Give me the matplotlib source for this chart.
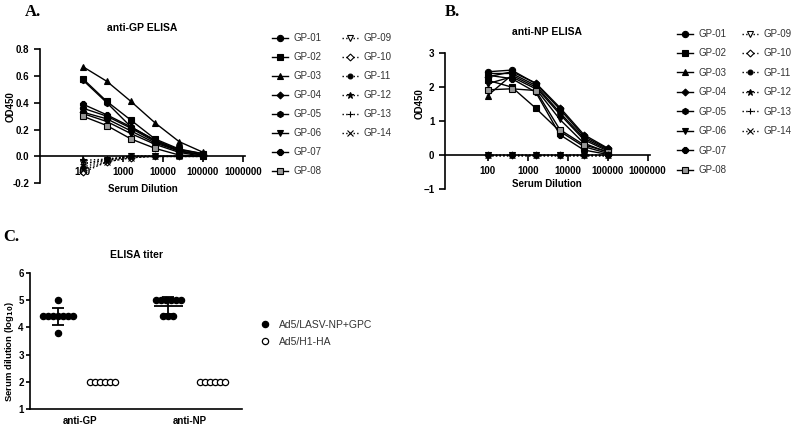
import matplotlib
matplotlib.use("Agg")
import matplotlib.pyplot as plt
import numpy as np

plt.rcParams['font.family'] = ['Liberation Sans', 'DejaVu Sans']

# serum dilutions used in the ELISA
dilutions = [100, 400, 1600, 6400, 25600, 102400]
animals = ['GP-%02d' % i for i in range(1, 15)]

# OD450 values, anti-GP ELISA (panel A)
gp_od = {
    'GP-01': [0.36, 0.30, 0.21, 0.11, 0.04, 0.01],
    'GP-02': [0.58, 0.41, 0.27, 0.13, 0.055, 0.02],
    'GP-03': [0.67, 0.56, 0.41, 0.25, 0.11, 0.03],
    'GP-04': [0.33, 0.28, 0.19, 0.10, 0.04, 0.01],
    'GP-05': [0.57, 0.40, 0.22, 0.12, 0.05, 0.02],
    'GP-06': [0.32, 0.26, 0.17, 0.09, 0.03, 0.00],
    'GP-07': [0.39, 0.31, 0.22, 0.12, 0.04, 0.01],
    'GP-08': [0.30, 0.23, 0.13, 0.06, 0.01, 0.00],
    'GP-09': [-0.05, -0.03, 0.00, 0.00, 0.00, 0.00],
    'GP-10': [-0.12, -0.04, -0.01, 0.00, 0.00, 0.00],
    'GP-11': [-0.08, -0.03, 0.00, 0.00, 0.00, 0.00],
    'GP-12': [-0.03, -0.02, 0.00, 0.00, 0.00, 0.00],
    'GP-13': [-0.06, -0.02, 0.00, 0.00, 0.00, 0.00],
    'GP-14': [-0.10, -0.04, -0.01, 0.00, 0.00, 0.00],
}

# OD450 values, anti-NP ELISA (panel B)
np_od = {
    'GP-01': [2.45, 2.50, 2.10, 1.35, 0.55, 0.18],
    'GP-02': [2.20, 2.00, 1.38, 0.70, 0.25, 0.05],
    'GP-03': [1.75, 2.35, 2.00, 1.20, 0.45, 0.12],
    'GP-04': [2.30, 2.45, 2.12, 1.40, 0.60, 0.20],
    'GP-05': [2.40, 2.40, 2.05, 1.25, 0.50, 0.15],
    'GP-06': [2.10, 2.30, 1.95, 1.05, 0.35, 0.08],
    'GP-07': [2.35, 2.25, 1.85, 0.60, 0.15, 0.02],
    'GP-08': [1.92, 1.95, 1.90, 0.75, 0.30, 0.10],
    'GP-09': [0.00, 0.00, 0.00, 0.00, 0.00, 0.00],
    'GP-10': [0.00, 0.00, 0.00, 0.00, 0.00, 0.00],
    'GP-11': [0.00, 0.00, 0.00, 0.00, 0.00, 0.00],
    'GP-12': [0.00, 0.00, 0.00, 0.00, 0.00, 0.00],
    'GP-13': [0.00, 0.00, 0.00, 0.00, 0.00, 0.00],
    'GP-14': [0.00, 0.00, 0.00, 0.00, 0.00, 0.00],
}

# endpoint titers (log10), panel C
titer_groups = ['anti-GP', 'anti-NP']
titer_vaccine = {
    'anti-GP': [5.0, 4.4, 4.4, 4.4, 4.4, 4.4, 4.4, 4.4, 3.8],
    'anti-NP': [5.0, 5.0, 5.0, 5.0, 5.0, 5.0, 4.4, 4.4, 4.4],
}
titer_control = {
    'anti-GP': [2.0, 2.0, 2.0, 2.0, 2.0, 2.0],
    'anti-NP': [2.0, 2.0, 2.0, 2.0, 2.0, 2.0],
}
group_names = ['Ad5/LASV-NP+GPC', 'Ad5/H1-HA']

# marker style for each animal
styles = {
    'GP-01': dict(marker='o', mfc='black', ms=4.5),
    'GP-02': dict(marker='s', mfc='black', ms=4.5),
    'GP-03': dict(marker='^', mfc='black', ms=4.5),
    'GP-04': dict(marker='D', mfc='black', ms=3.5),
    'GP-05': dict(marker='h', mfc='black', ms=4.5),
    'GP-06': dict(marker='v', mfc='black', ms=4.5),
    'GP-07': dict(marker='8', mfc='black', ms=5),
    'GP-08': dict(marker='s', mfc='#999999', ms=4.5),
    'GP-09': dict(marker='v', mfc='white', ms=4.5),
    'GP-10': dict(marker='D', mfc='white', ms=3.5),
    'GP-11': dict(marker='o', mfc='black', ms=3.5),
    'GP-12': dict(marker='*', mfc='black', ms=5),
    'GP-13': dict(marker='+', mfc='black', ms=5),
    'GP-14': dict(marker='x', mfc='black', ms=4.5),
}

TS = 7       # tick label size
BOLD = 'bold'

fig = plt.figure(figsize=(8, 4.28), dpi=100)


def elisa_panel(rect, data, ylim, yticks, title, ylab_xy, xlab_y, col_x, leg_top, spacing):
    ax = fig.add_axes(rect)
    handles = []
    for name in animals:
        st = styles[name]
        ls = '-' if int(name[3:]) <= 8 else ':'
        h, = ax.plot(dilutions, data[name], color='black', lw=1, ls=ls,
                     marker=st['marker'], mfc=st['mfc'], mec='black', ms=st['ms'],
                     mew=0.8, label=name, clip_on=False)
        handles.append(h)
    ax.set_xscale('log')
    ax.set_xlim(8.5, 1.12e6)
    ax.set_ylim(*ylim)
    ax.set_xticks([100, 1000, 10000, 100000, 1000000])
    ax.set_xticklabels(['100', '1000', '10000', '100000', '1000000'])
    ax.xaxis.set_minor_locator(matplotlib.ticker.NullLocator())
    ax.set_yticks(yticks)
    ax.spines['top'].set_visible(False)
    ax.spines['right'].set_visible(False)
    ax.spines['bottom'].set_position(('data', 0))
    ax.spines['left'].set_linewidth(1.2)
    ax.spines['bottom'].set_linewidth(1.2)
    ax.tick_params(labelsize=TS, width=1.2, length=4)
    for lab in ax.get_xticklabels() + ax.get_yticklabels():
        lab.set_fontweight(BOLD)
    ax.set_title(title, fontsize=7.5, fontweight=BOLD, pad=13)
    ax.set_ylabel('OD450', fontsize=TS, fontweight=BOLD)
    ax.yaxis.set_label_coords(ylab_xy[0], ylab_xy[1])
    ax.text(0.5, xlab_y, 'Serum Dilution', transform=ax.transAxes,
            ha='center', va='center', fontsize=TS, fontweight=BOLD)
    # two legend columns: 8 solid-line animals, then 6 dotted-line animals
    legs = []
    for hs, x in [(handles[:8], col_x[0]), (handles[8:], col_x[1])]:
        leg = ax.legend(handles=hs, loc='upper left',
                        bbox_to_anchor=(x / 800, 1 - leg_top / 428),
                        bbox_transform=fig.transFigure, frameon=False,
                        fontsize=7, handlelength=1.6, handletextpad=0.6,
                        labelspacing=spacing, borderpad=0, borderaxespad=0)
        for t in leg.get_texts():
            t.set_color('#333333')
        legs.append(leg)
    ax.add_artist(legs[0])
    return ax


axA = elisa_panel([0.05, 0.572, 0.256, 0.313], gp_od, (-0.2, 0.8),
                  [-0.2, 0.0, 0.2, 0.4, 0.6, 0.8], 'anti-GP ELISA',
                  (-0.12, 0.57), -0.045, (272, 342), 33, 0.93)
axA.set_yticklabels(['-0.2', '0.0', '0.2', '0.4', '0.6', '0.8'], fontweight=BOLD)

axB = elisa_panel([0.556, 0.558, 0.256, 0.318], np_od, (-1, 3),
                  [-1, 0, 1, 2, 3], 'anti-NP ELISA',
                  (-0.10, 0.63), 0.04, (677, 742), 29, 0.97)

# panel C: titers
axC = fig.add_axes([0.0375, 0.0444, 0.265, 0.318])
mark_w = 0.045
for gi, g in enumerate(titer_groups):
    for vals, off, face, lab in [(titer_vaccine[g], -0.2, 'black', group_names[0]),
                                 (titer_control[g], 0.2, 'white', group_names[1])]:
        vals = np.array(vals)
        xs = np.zeros(len(vals))
        for v in np.unique(vals):
            idx = np.where(vals == v)[0]
            xs[idx] = (np.arange(len(idx)) - (len(idx) - 1) / 2) * mark_w
        axC.plot(gi + off + xs, vals, ls='none', marker='o', ms=4.5,
                 mfc=face, mec='black', mew=0.9,
                 label=lab if gi == 0 else None, zorder=3)
    vals = np.array(titer_vaccine[g])
    m, sd = vals.mean(), vals.std(ddof=1)
    axC.hlines(m, gi - 0.2 - 0.13, gi - 0.2 + 0.13, color='black', lw=1.3, zorder=4)
    axC.errorbar(gi - 0.2, m, yerr=sd, fmt='none', ecolor='black',
                 elinewidth=1.3, capsize=4, capthick=1.3, zorder=4)

axC.set_xlim(-0.455, 1.47)
axC.set_ylim(1, 6)
axC.set_yticks([1, 2, 3, 4, 5, 6])
axC.set_xticks([0, 1])
axC.set_xticklabels(titer_groups)
axC.spines['top'].set_visible(False)
axC.spines['right'].set_visible(False)
axC.spines['left'].set_linewidth(1.2)
axC.spines['bottom'].set_linewidth(1.2)
axC.tick_params(axis='y', labelsize=TS, width=1.2, length=3, pad=1.5)
axC.tick_params(axis='x', labelsize=TS, length=0, pad=5)
for lab in axC.get_xticklabels() + axC.get_yticklabels():
    lab.set_fontweight(BOLD)
axC.set_title('ELISA titer', fontsize=7.5, fontweight=BOLD, pad=11)
axC.set_ylabel(r'Serum dilution (log$_{\mathbf{10}}$)', fontsize=6.8, fontweight=BOLD)
axC.yaxis.set_label_coords(-0.068, 0.42)
legC = axC.legend(loc='upper left', bbox_to_anchor=(0.318, 0.265),
                  bbox_transform=fig.transFigure, frameon=False, fontsize=7.5,
                  handlelength=1.0, handletextpad=0.9, labelspacing=0.7,
                  borderpad=0)
for t in legC.get_texts():
    t.set_color('#333333')

# panel letters
fig.text(0.031, 0.972, 'A.', family='Liberation Serif', fontsize=12,
         fontweight=BOLD, va='center')
fig.text(0.556, 0.972, 'B.', family='Liberation Serif', fontsize=12,
         fontweight=BOLD, va='center')
fig.text(0.004, 0.446, 'C.', family='Liberation Serif', fontsize=12,
         fontweight=BOLD, va='center')

fig.savefig('out.png', dpi=100)
